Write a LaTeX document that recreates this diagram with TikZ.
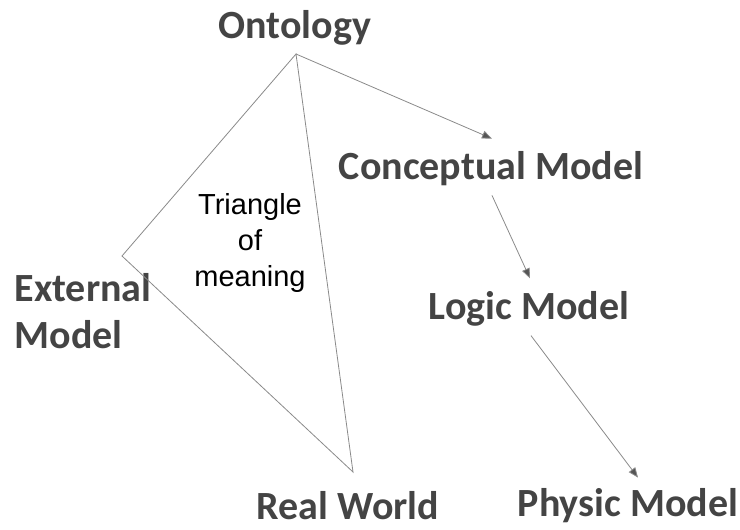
\documentclass[tikz,border=0pt]{standalone}
\usepackage{fontspec}
\usepackage{xcolor}
\usepackage{tikz}
\usetikzlibrary{arrows.meta,positioning,calc}
\newfontfamily\headfont{Carlito}
\newfontfamily\notefont{Liberation Sans}
\definecolor{textgray}{HTML}{444444}
\definecolor{linegray}{HTML}{8A8A8A}
\definecolor{tipgray}{HTML}{555555}

\begin{document}
\begin{tikzpicture}[x=1pt,y=-1pt,
  model/.style={font=\headfont\bfseries\fontsize{40}{47}\selectfont,text=textgray,inner sep=0pt},
  note/.style={font=\notefont\fontsize{29}{36}\selectfont,align=center,inner sep=0pt},
  edge/.style={draw=linegray,line width=0.8pt},
  flow/.style={edge,-{Triangle[length=10pt,width=8pt,fill=tipgray]}}]
\useasboundingbox (0,0) rectangle (740,530);
% model labels
\node[model] (onto) at (295,28) {Ontology};
\node[model] (conc) at (491,169) {Conceptual Model};
\node[model] (logic) at (529,309) {Logic Model};
\node[model] (phys) at (628,506) {Physic Model};
\node[model] (real) at (348,506) {Real World};
\node[model,align=left] (ext) at (83,311) {External\\Model};
\node[note] (tri) at (250,243) {Triangle\\of\\meaning};
% triangle of meaning
\coordinate (apex) at (296,54);
\coordinate (left) at (122,256);
\coordinate (bottom) at (353,472);
\draw[edge] (apex) -- (left) -- (bottom) -- cycle;
% model chain
\draw[flow] (apex) -- ([xshift=1pt,yshift=13pt]conc.north);
\draw[flow] ([xshift=1pt,yshift=-9pt]conc.south) -- ([xshift=1pt,yshift=13pt]logic.north);
\draw[flow] ([xshift=2pt,yshift=-9pt]logic.south) -- ([xshift=10pt,yshift=11pt]phys.north);
\end{tikzpicture}
\end{document}
